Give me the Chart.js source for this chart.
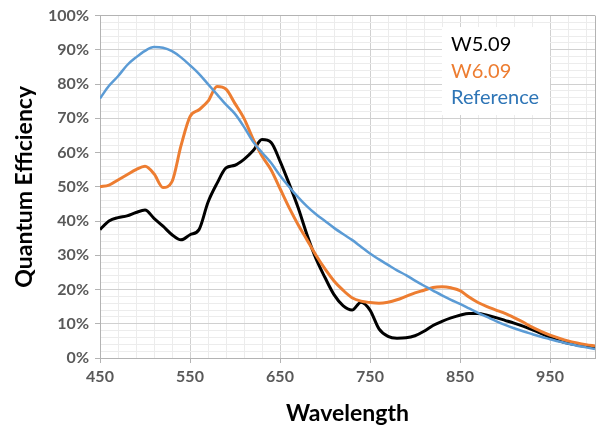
<!DOCTYPE html>
<html lang="en">
<head>
    <meta charset="UTF-8">
    <title>Quantum Efficiency</title>
    <style>
        body {
            margin: 0;
            background: #fff;
        }
        .wrap {
            width: 599px;
            height: 428px;
            position: relative;
        }
    </style>
    <script src="https://cdn.jsdelivr.net/npm/chart.js"></script>
</head>
<body>
    <div class="wrap">
        <canvas id="qe-chart" width="599" height="428"></canvas>
    </div>

    <script>
        // wavelength in nm, every 10 nm
        const wavelength = [];
        for (let w = 450; w <= 1000; w += 10) wavelength.push(w);

        // QE values (%)
        const w509 = [
            37.5, 40, 41, 41.5, 42.5, 43.2, 40.8, 38.5, 36, 34.5,
            36, 37.5, 45.5, 51, 55.5, 56.3, 58, 60.5, 63.8, 63,
            57.5, 51, 44, 36, 29, 23.5, 18.5, 15.3, 14, 16.3,
            14, 8.5, 6.3, 5.8, 5.9, 6.5, 7.8, 9.5, 10.7, 11.7,
            12.5, 13, 13, 12.5, 11.8, 11, 10.2, 9.3, 8.3, 7.2,
            6, 5, 4.3, 3.8, 3.4, 3
        ];
        const w609 = [
            50, 50.5, 52, 53.5, 55, 56, 53.8, 49.8, 51.5, 62,
            70.5, 72.5, 75, 79.3, 78.5, 74.3, 70, 64, 59, 55,
            49.5, 44, 39, 34.5, 30, 26, 22.5, 19.8, 17.6, 16.6,
            16.2, 16, 16.3, 17, 18, 19, 19.8, 20.6, 20.8, 20.5,
            19.7, 17.8, 16.2, 15, 14, 13, 11.8, 10.5, 9, 7.8,
            6.7, 5.8, 5, 4.4, 3.9, 3.5
        ];
        const reference = [
            75.8, 79.5, 82.3, 85.5, 87.8, 89.7, 90.8, 90.6, 89.6, 87.8,
            85.5, 83, 80, 77, 74, 71.3, 67.5, 63.2, 60, 57,
            53.3, 50, 47, 44.3, 42, 40, 38, 36.2, 34.5, 32.5,
            30.5, 28.8, 27.2, 25.6, 24.2, 22.6, 21.1, 19.7, 18.3, 17,
            15.8, 14.5, 13.2, 12, 10.8, 9.7, 8.7, 7.8, 7, 6.2,
            5.5, 4.8, 4.2, 3.6, 3.1, 2.6
        ];

        const xTicks = [];
        for (let w = 450; w < 1000; w += 20) xTicks.push(w);
        xTicks.push(1000);
        const yTicks = [];
        for (let p = 0; p <= 100; p += 2) yTicks.push(p);

        const seriesNames = ['W5.09', 'W6.09', 'Reference'];
        const lineColors = ['#000000', '#ED7D31', '#5B9BD5'];
        const textColors = ['#000000', '#ED7D31', '#2E75B6'];

        const majorGrid = '#d0d0d0';
        const minorGrid = '#ececec';
        const frame = '#b3b3b3';

        const isMajorX = v => (v - 450) % 100 === 0;
        const isMajorY = v => v % 10 === 0;

        // little legend box inside the plot
        const legendBox = {
            id: 'legendBox',
            afterDatasetsDraw(chart) {
                const ctx = chart.ctx;
                ctx.save();
                ctx.fillStyle = '#ffffff';
                ctx.fillRect(442, 27, 108, 88);
                ctx.font = '20px Lato';
                ctx.textBaseline = 'middle';
                seriesNames.forEach((name, i) => {
                    ctx.fillStyle = textColors[i];
                    ctx.fillText(name, 451, 45 + i * 26.5);
                });
                ctx.restore();
            }
        };

        const makeSet = (label, data, i, width) => ({
            label: label,
            data: data,
            borderColor: lineColors[i],
            backgroundColor: lineColors[i],
            borderWidth: width,
            pointRadius: 0,
            cubicInterpolationMode: 'monotone',
            fill: false
        });

        const ctx = document.getElementById('qe-chart').getContext('2d');
        new Chart(ctx, {
            type: 'line',
            data: {
                labels: wavelength,
                datasets: [
                    makeSet(seriesNames[2], reference, 2, 2.5),
                    makeSet(seriesNames[1], w609, 1, 3),
                    makeSet(seriesNames[0], w509, 0, 3)
                ]
            },
            options: {
                responsive: false,
                animation: false,
                layout: {
                    padding: { left: 0, top: 13, right: 4, bottom: 0 }
                },
                plugins: {
                    legend: { display: false },
                    tooltip: { enabled: false }
                },
                scales: {
                    x: {
                        type: 'linear',
                        min: 450,
                        max: 1000,
                        afterBuildTicks: scale => {
                            scale.ticks = xTicks.map(v => ({ value: v }));
                        },
                        afterFit: scale => { scale.height = 70; },
                        ticks: {
                            autoSkip: false,
                            maxRotation: 0,
                            color: '#595959',
                            font: { family: 'Lato', size: 16, weight: 'bold' },
                            padding: 4,
                            callback: v => (isMajorX(v) && v < 1000 ? String(v) : '')
                        },
                        grid: {
                            color: c => (c.tick && (isMajorX(c.tick.value) || c.tick.value === 1000) ? (c.tick.value === 1000 ? frame : majorGrid) : minorGrid),
                            tickColor: c => (c.tick && isMajorX(c.tick.value) && c.tick.value < 1000 ? frame : 'rgba(0,0,0,0)'),
                            tickLength: 5
                        },
                        border: { color: frame, width: 1 },
                        title: {
                            display: true,
                            text: 'Wavelength',
                            color: '#000',
                            font: { family: 'Lato', size: 23, weight: 'bold' },
                            padding: { top: 1, bottom: 1 }
                        }
                    },
                    y: {
                        min: 0,
                        max: 100,
                        afterBuildTicks: scale => {
                            scale.ticks = yTicks.map(v => ({ value: v }));
                        },
                        afterFit: scale => { scale.width = 100; },
                        ticks: {
                            autoSkip: false,
                            color: '#595959',
                            font: { family: 'Lato', size: 16, weight: 'bold' },
                            padding: 6,
                            callback: v => (isMajorY(v) ? v + '%' : '')
                        },
                        grid: {
                            color: c => (c.tick && isMajorY(c.tick.value) ? (c.tick.value === 100 ? frame : majorGrid) : minorGrid),
                            tickColor: c => (c.tick && isMajorY(c.tick.value) ? frame : 'rgba(0,0,0,0)'),
                            tickLength: 5
                        },
                        border: { color: frame, width: 1 },
                        title: {
                            display: true,
                            text: 'Quantum Efficiency',
                            color: '#000',
                            font: { family: 'Lato', size: 23, weight: 'bold' },
                            padding: { top: 11, bottom: 2 }
                        }
                    }
                }
            },
            plugins: [legendBox]
        });
    </script>
</body>
</html>
